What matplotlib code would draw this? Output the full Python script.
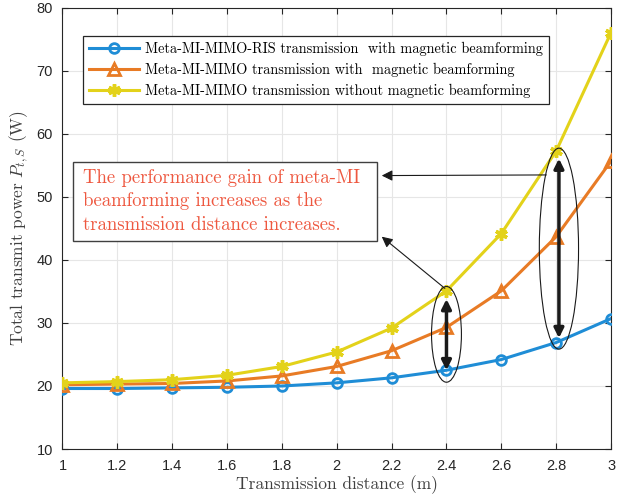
import matplotlib
matplotlib.use('Agg')
import matplotlib.pyplot as plt
from matplotlib.patches import Ellipse, Rectangle

plt.rcParams['font.family'] = ['cmr10', 'DejaVu Serif']
plt.rcParams['mathtext.fontset'] = 'cm'
plt.rcParams['axes.formatter.use_mathtext'] = True

# data
distance = [1.0, 1.2, 1.4, 1.6, 1.8, 2.0, 2.2, 2.4, 2.6, 2.8, 3.0]
ris_bf = [19.6, 19.6, 19.7, 19.8, 20.0, 20.5, 21.3, 22.5, 24.2, 26.9, 30.7]
mimo_bf = [20.2, 20.3, 20.4, 20.8, 21.6, 23.1, 25.6, 29.3, 35.1, 43.7, 55.7]
mimo_nobf = [20.5, 20.7, 21.0, 21.7, 23.1, 25.4, 29.2, 35.1, 44.2, 57.3, 76.1]

labels = ['Meta-MI-MIMO-RIS transmission  with magnetic beamforming',
          'Meta-MI-MIMO transmission with  magnetic beamforming',
          'Meta-MI-MIMO transmission without magnetic beamforming']
xticks = [1, 1.2, 1.4, 1.6, 1.8, 2, 2.2, 2.4, 2.6, 2.8, 3]
xtick_labels = ['1', '1.2', '1.4', '1.6', '1.8', '2', '2.2', '2.4', '2.6', '2.8', '3']
yticks = [10, 20, 30, 40, 50, 60, 70, 80]
note = ('The performance gain of meta-MI\n'
        'beamforming increases as the\n'
        'transmission distance increases.')

blue = '#1f8dd6'
orange = '#e87b25'
yellow = '#e3d21a'

fig = plt.figure(figsize=(6.28, 4.99), dpi=100)
ax = fig.add_axes([0.0995, 0.1002, 0.8735, 0.8838])

ax.plot(distance, ris_bf, '-o', color=blue, lw=2.2, ms=7, mew=2,
        mfc='none', label=labels[0], zorder=4)
ax.plot(distance, mimo_bf, '-^', color=orange, lw=2.2, ms=9, mew=2,
        mfc='none', label=labels[1], zorder=4)
ax.plot(distance, mimo_nobf, '-', marker=(6, 2, 0), color=yellow, lw=2.2,
        ms=9, mew=2.5, label=labels[2], zorder=4)

ax.set_xlim(1, 3)
ax.set_ylim(10, 80)
ax.set_xticks(xticks)
ax.set_xticklabels(xtick_labels)
ax.set_yticks(yticks)
ax.set_yticklabels([str(v) for v in yticks])
for t in ax.get_xticklabels() + ax.get_yticklabels():
    t.set_fontfamily('Liberation Sans')
    t.set_fontsize(10.5)
    t.set_color('#262626')
ax.tick_params(direction='in', top=True, right=True, length=4, width=0.8,
               color='#262626', pad=7)
ax.grid(True, color='#e6e6e6', lw=0.8)
ax.set_axisbelow(True)
for s in ax.spines.values():
    s.set_color('#262626')
    s.set_linewidth(0.8)

ax.set_xlabel('Transmission distance (m)', fontsize=12.5, color='#404040', labelpad=2)
ax.set_ylabel('Total transmit power $P_{t,S}$ (W)', fontsize=12.5, color='#404040',
              labelpad=4)

leg = ax.legend(loc='upper left', bbox_to_anchor=(0.037, 0.937), fontsize=10.3,
                fancybox=False, framealpha=1, edgecolor='#262626',
                handlelength=3.5, borderpad=0.45, labelspacing=0.45,
                handletextpad=0.4, borderaxespad=0)
leg.get_frame().set_linewidth(0.9)

# annotation box
ax.add_patch(Rectangle((0.0197, 0.472), 0.553, 0.179, transform=ax.transAxes,
                       fill=True, facecolor='white', edgecolor='#404040',
                       lw=1.0, zorder=5))
ax.text(0.037, 0.636, note, transform=ax.transAxes, ha='left', va='top',
        fontsize=13.5, color='#ee5840', linespacing=1.4, zorder=6)

# ellipses and double arrows
ax.add_patch(Ellipse((2.4, 28.2), 0.109, 15.2, fill=False, lw=0.8,
                     color='#1a1a1a', zorder=6))
ax.add_patch(Ellipse((2.81, 41.8), 0.143, 31.9, fill=False, lw=0.8,
                     color='#1a1a1a', zorder=6))
ax.annotate('', xy=(2.4, 33.8), xytext=(2.4, 22.5),
            arrowprops=dict(arrowstyle='<|-|>', lw=2.5, color='#1a1a1a',
                            mutation_scale=14, shrinkA=0, shrinkB=0), zorder=7)
ax.annotate('', xy=(2.81, 56.1), xytext=(2.81, 27.6),
            arrowprops=dict(arrowstyle='<|-|>', lw=2.5, color='#1a1a1a',
                            mutation_scale=14, shrinkA=0, shrinkB=0), zorder=7)

# pointers to the note
ax.annotate('', xy=(2.164, 53.4), xytext=(2.764, 53.5),
            arrowprops=dict(arrowstyle='-|>', lw=0.8, color='#1a1a1a',
                            mutation_scale=16, shrinkA=0, shrinkB=0), zorder=7)
ax.annotate('', xy=(2.164, 43.7), xytext=(2.394, 35.5),
            arrowprops=dict(arrowstyle='-|>', lw=0.8, color='#1a1a1a',
                            mutation_scale=16, shrinkA=0, shrinkB=0), zorder=7)

fig.savefig('out.png', dpi=100)
